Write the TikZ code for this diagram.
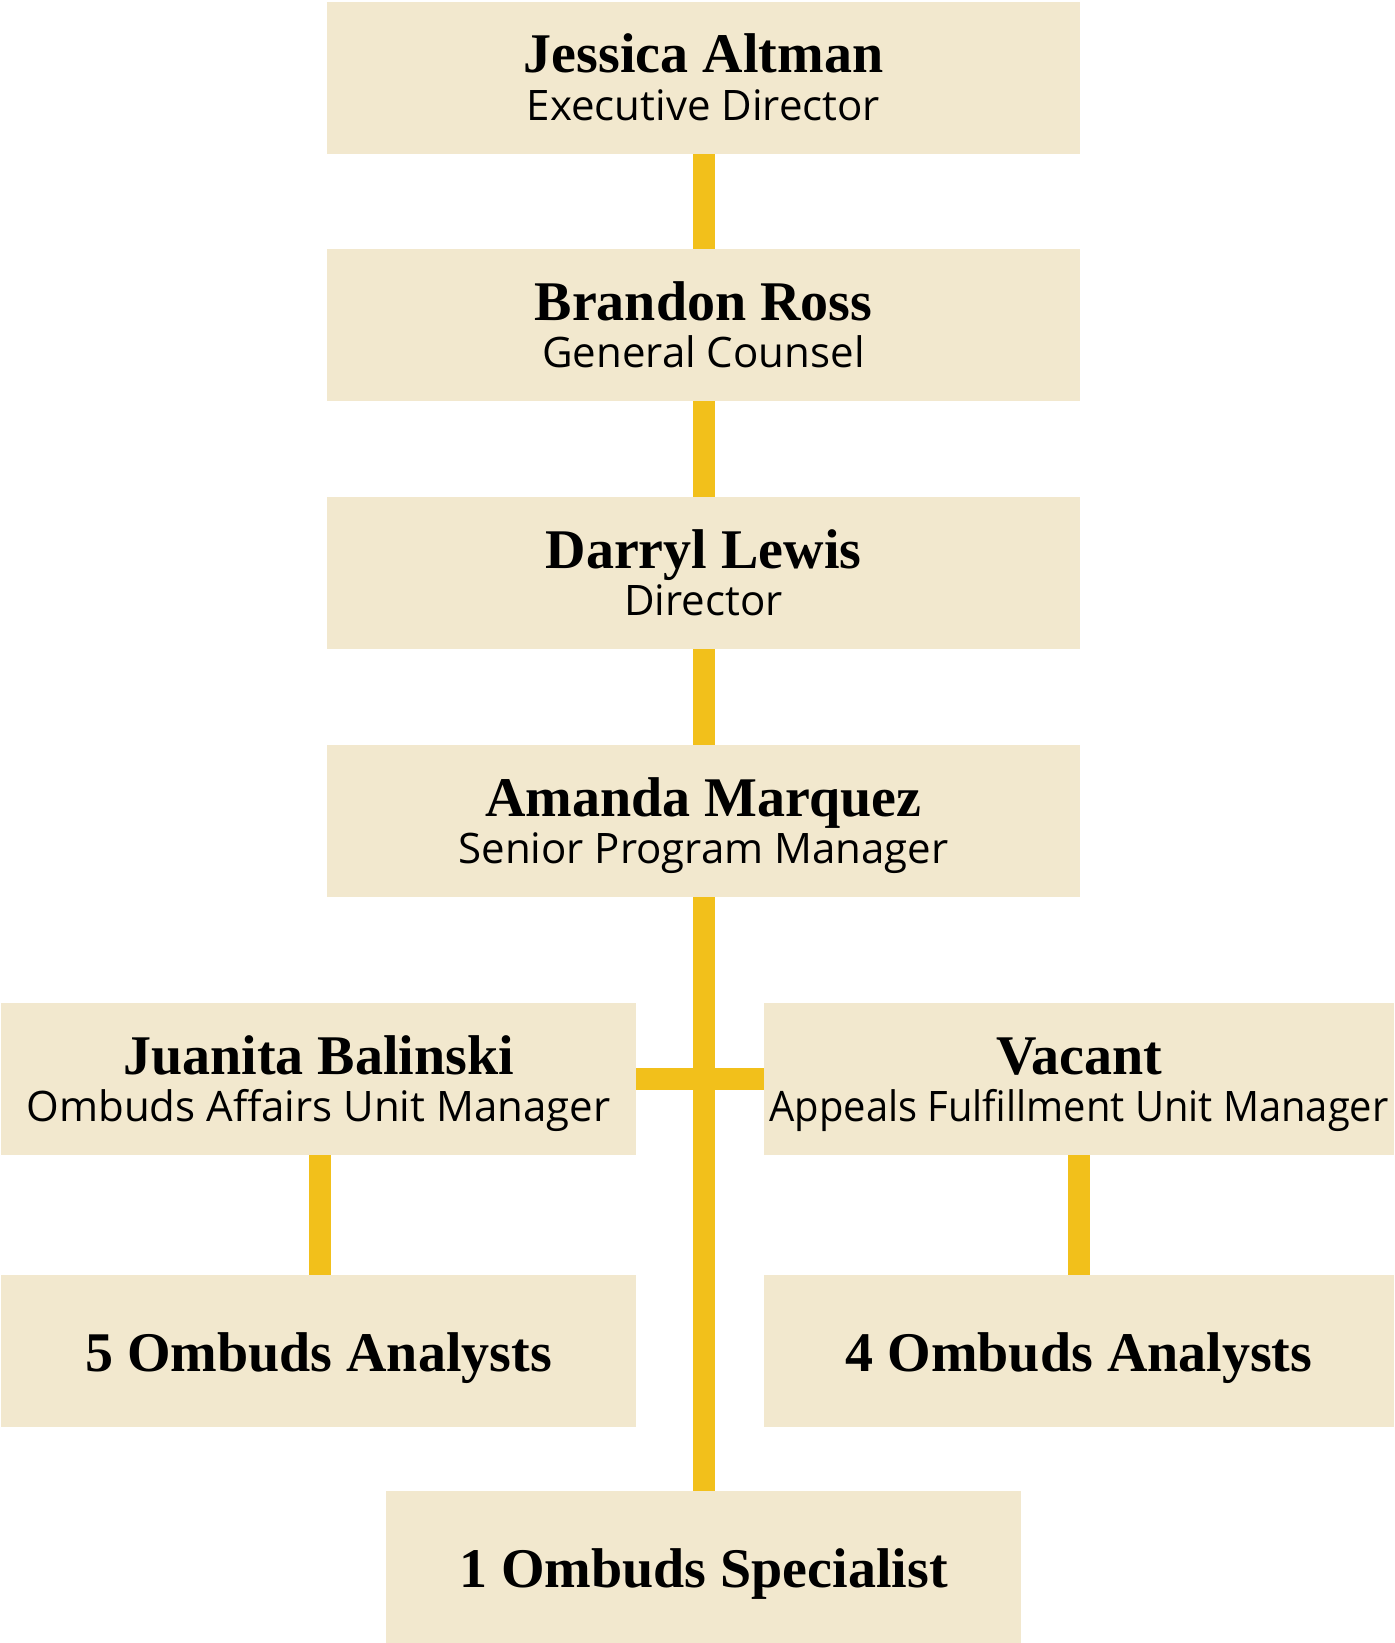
\documentclass[tikz,border=0pt]{standalone}
\usepackage{fontspec}
\usepackage{graphicx}
\newfontfamily\namefont{Liberation Serif}
\newfontfamily\titlefont{Open Sans}
\definecolor{boxbeige}{RGB}{242,232,206}
\definecolor{connyellow}{RGB}{242,192,27}
\begin{document}
\begin{tikzpicture}[x=0.5pt,y=-0.5pt,
  box/.style={fill=boxbeige, draw=none, inner sep=0pt, outer sep=0pt, anchor=north west, minimum height=76pt},
  widebox/.style={box, minimum width=376.5pt},
  leftbox/.style={box, minimum width=317.5pt},
  rightbox/.style={box, minimum width=315pt},
  nametext/.style={anchor=base, inner sep=0pt, font={\namefont\bfseries\fontsize{28pt}{30pt}\selectfont}},
  titletext/.style={anchor=base, inner sep=0pt, font={\titlefont\fontsize{21pt}{24pt}\selectfont}},
  conn/.style={draw=connyellow, line width=11pt, line cap=butt}]
\useasboundingbox[fill=white] (0,0) rectangle (1395,1643);
% boxes
\node[widebox] (b1) at (327,2) {};
\node[widebox] (b2) at (327,249) {};
\node[widebox] (b3) at (327,497) {};
\node[widebox] (b4) at (327,745) {};
\node[leftbox] (b5) at (1,1003) {};
\node[rightbox] (b6) at (764,1003) {};
\node[leftbox] (b7) at (1,1275) {};
\node[rightbox] (b8) at (764,1275) {};
\node[leftbox] (b9) at (386,1491) {};
% connectors
\draw[conn] (b1.south) -- (b2.north);
\draw[conn] (b2.south) -- (b3.north);
\draw[conn] (b3.south) -- (b4.north);
\draw[conn] (b4.south) -- (b9.north);
\draw[conn] (b5.east) -- (b6.west);
\draw[conn] ([xshift=0.75pt]b5.south) -- ([xshift=0.75pt]b7.north);
\draw[conn] (b6.south) -- (b8.north);
% texts
\node[nametext] (n1) at (703.5,73) {Jessica Altman};
\node[titletext] (t1) at (703.5,120) {Executive Director};
\node[nametext] (n2) at (703.5,320) {Brandon Ross};
\node[titletext] (t2) at (703.5,367) {General Counsel};
\node[nametext] (n3) at (703.5,568) {Darryl Lewis};
\node[titletext] (t3) at (703.5,615) {Director};
\node[nametext] (n4) at (703.5,816) {Amanda Marquez};
\node[titletext] (t4) at (703.5,863) {Senior Program Manager};
\node[nametext] (n5) at (318.5,1074) {Juanita Balinski};
\node[titletext] (t5) at (318.5,1121) {Ombuds Affairs Unit Manager};
\node[nametext] (n6) at (1079,1074) {Vacant};
\node[titletext] (t6) at (1079,1121) {\scalebox{0.95}[1]{Appeals Fulfillment Unit Manager}};
\node[nametext] (n7) at (318.5,1371) {5 Ombuds Analysts};
\node[nametext] (n8) at (1079,1371) {4 Ombuds Analysts};
\node[nametext] (n9) at (703.5,1587) {1 Ombuds Specialist};
\end{tikzpicture}
\end{document}
